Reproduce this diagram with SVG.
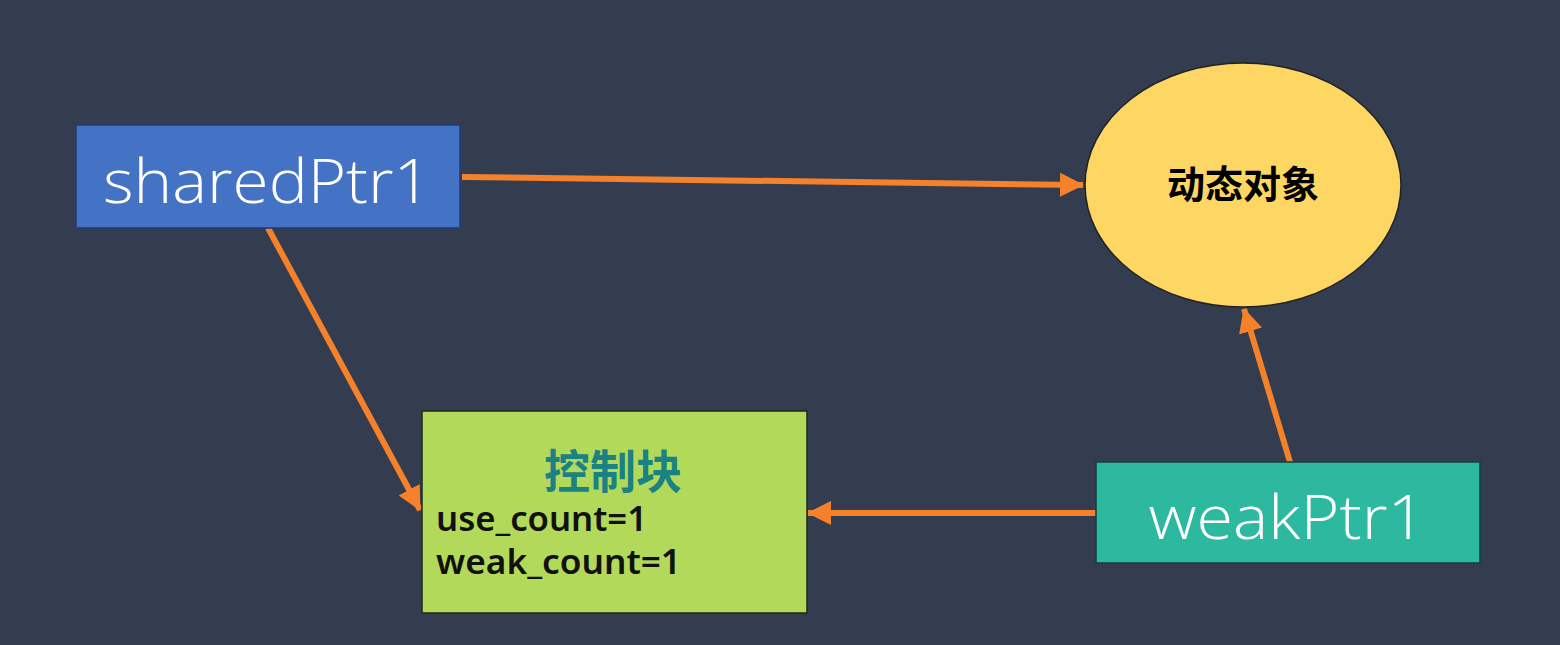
<svg xmlns="http://www.w3.org/2000/svg" width="1560" height="645" viewBox="0 0 1560 645">
<style>
.lbl{font-family:"Open Sans","Noto Sans","Liberation Sans",sans-serif;font-weight:300;fill:#ffffff;font-size:60px;text-anchor:middle}
.cjk{font-family:"Noto Sans CJK SC","Noto Sans",sans-serif;font-weight:bold}
.cnt{font-family:"Noto Sans","Liberation Sans",sans-serif;font-weight:600;font-size:35px;fill:#111111}
.conn{stroke:#f5822a;stroke-width:6;fill:none;marker-end:url(#ah)}
</style>
<defs>
<marker id="ah" markerUnits="userSpaceOnUse" markerWidth="24" markerHeight="24" refX="23" refY="12" orient="auto">
<path d="M0,0 L24,12 L0,24 z" fill="#f5822a"/>
</marker>
</defs>
<rect width="1560" height="645" fill="#333d4f"/>
<g id="connectors">
<line class="conn" x1="462" y1="177" x2="1083" y2="185"/>
<line class="conn" x1="268" y1="228" x2="420" y2="510"/>
<line class="conn" x1="1096" y1="513" x2="808" y2="513"/>
<line class="conn" x1="1290" y1="462" x2="1244" y2="309"/>
</g>
<g id="sharedPtr1">
<rect x="76" y="125" width="384" height="103" fill="#4472c4" stroke="#1f3b70" stroke-width="1.5"/>
<text class="lbl" x="267" y="203" textLength="328" lengthAdjust="spacingAndGlyphs">sharedPtr1</text>
</g>
<g id="dynamicObject">
<ellipse cx="1243" cy="185" rx="158" ry="122" fill="#fdd663" stroke="#222222" stroke-width="1.5"/>
<text class="cjk" x="1243" y="198" font-size="38" fill="#000000" text-anchor="middle">动态对象</text>
</g>
<g id="controlBlock">
<rect x="422" y="411" width="385" height="202" fill="#b3d95a" stroke="#1f2a1a" stroke-width="1.5"/>
<text class="cjk" x="613" y="488" font-size="46" fill="#1a8282" text-anchor="middle">控制块</text>
<text class="cnt" x="436" y="531" textLength="211" lengthAdjust="spacingAndGlyphs">use_count=1</text>
<text class="cnt" x="436" y="574" textLength="245" lengthAdjust="spacingAndGlyphs">weak_count=1</text>
</g>
<g id="weakPtr1">
<rect x="1096" y="462" width="384" height="101" fill="#2db8a0" stroke="#12403a" stroke-width="1.5"/>
<text class="lbl" x="1287" y="539" textLength="277" lengthAdjust="spacingAndGlyphs">weakPtr1</text>
</g>
</svg>
